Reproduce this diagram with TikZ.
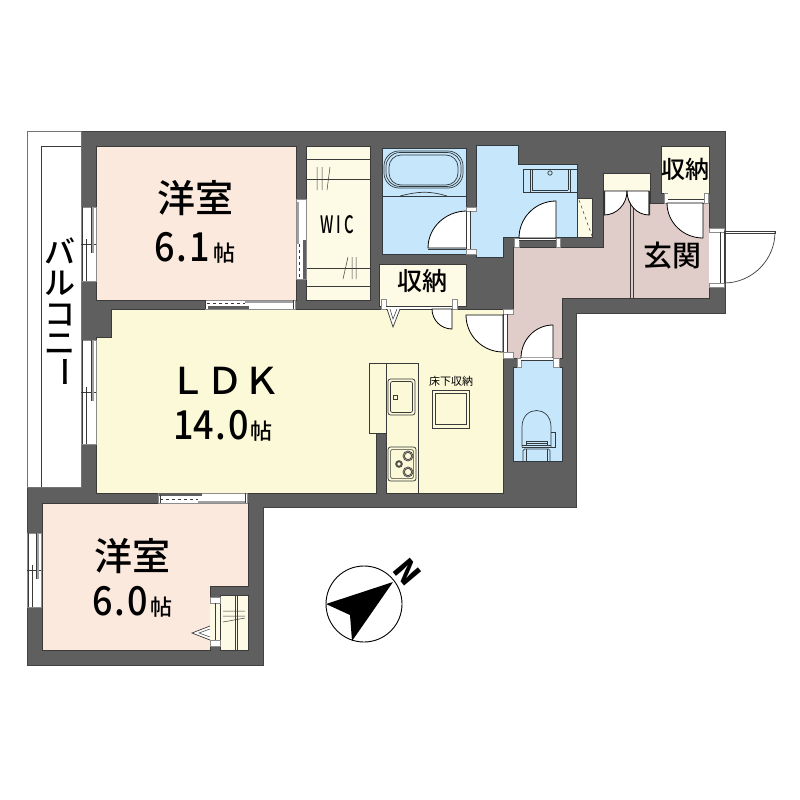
\documentclass[tikz,border=0pt]{standalone}
\usepackage{fontspec}
\usetikzlibrary{calc}
\newfontfamily\jpreg{Noto Sans CJK JP}
\newfontfamily\jpmed{Noto Sans CJK JP Medium}
\newcommand{\jp}{\jpmed}
\newcommand{\jpb}{\jpreg\bfseries}
\newcommand{\jpthin}{\jpreg\mdseries}
\definecolor{wallc}{HTML}{5F5F5F}
\definecolor{linec}{HTML}{3A3A3A}
\definecolor{ldkc}{HTML}{FBF9D8}
\definecolor{creamc}{HTML}{FDFAE6}
\definecolor{roomc}{HTML}{FBE9DD}
\definecolor{hallc}{HTML}{E0CDC9}
\definecolor{bluec}{HTML}{C6E6FB}
\definecolor{bandc}{HTML}{A0A0A0}
\tikzset{
  wall/.style={fill=wallc,draw=wallc!70!black,line width=0.8pt},
  room/.style={draw=linec,line width=0.9pt},
  fine/.style={draw=linec,line width=0.7pt},
  thin line/.style={draw=linec,line width=0.5pt},
  blue line/.style={draw=black!75!bluec,line width=0.7pt},
  gap/.style={fill=white,draw=black!45,line width=0.6pt},
  leaf/.style={fill=white,draw=black,line width=0.8pt},
  label/.style={text=black,inner sep=0pt}
}
% quarter door: centre, end a, end b
\newcommand{\door}[3]{%
  \path[leaf] #1 -- #2 .. controls ($#2+0.5523*#3-0.5523*#1$) and ($#3+0.5523*#2-0.5523*#1$) .. #3 -- cycle;
}
% vertical sliding window
\newcommand{\winV}[4]{% x0 x1 y0 y1
  \pgfmathsetmacro{\ym}{(#3+#4)/2}
  \path[gap] (#1,#3) rectangle (#2,#4);
  \draw[thin line] (#1,\ym) -- (#2,\ym);
  \fill[bandc] ({#2-5},#3) rectangle ({#2-2.5},{\ym+9});
  \draw[thin line] ({#2-5},#3) -- ({#2-5},{\ym+9});
  \draw[thin line] ({#1+5},{\ym-5}) -- ({#1+5},#4);
  \draw[thin line] ({#1+1.5},#3) -- ({#1+1.5},#4);
}
\begin{document}
\begin{tikzpicture}[x=1pt,y=-1pt]
\useasboundingbox (0,0) rectangle (800,800);
\fill[white] (0,0) rectangle (800,800);
% outer walls
\path[wall] (81,131) -- (725,131) -- (725,313) -- (576,313) -- (576,507) -- (263,507) -- (263,665) -- (27,665) -- (27,487) -- (81,487) -- cycle;
% balcony
\path[fill=white,draw=black!55,line width=0.8pt] (27,131) rectangle (81,487);
\draw[fine] (41,487) -- (41,146) -- (81,146);
% upper western room
\path[room,fill=roomc] (96,146) rectangle (296,300);
% WIC
\path[room,fill=creamc] (306,146) rectangle (370,300);
\draw[fine] (306,159) -- (370,159) (306,179) -- (370,179) (306,268) -- (370,268) (306,286) -- (370,286);
\draw[thin line] (317,167) -- (317,190) (322,167) -- (322,190) (330,167) -- (327,190);
\draw[thin line] (348,257) -- (343,279) (352,257) -- (352,279) (356,257) -- (356,279);
% LDK
\path[room,fill=ldkc] (111,309) -- (503,309) -- (503,493) -- (386,493) -- (386,433) -- (376,433) -- (376,493) -- (96,493) -- (96,337) -- (111,337) -- cycle;
\path[room,fill=ldkc] (369,363) rectangle (386,433);
\draw[fine] (386,363) -- (418,363) -- (418,493) (386,363) -- (386,493);
% sink
\draw[fine,rounded corners=2.5pt] (388,379) rectangle (415,415);
\draw[fine,rounded corners=2pt] (390.5,381.5) rectangle (412.5,412.5);
\draw[thin line] (393,395) rectangle (397,399);
% stove
\draw[fine,rounded corners=2.5pt] (388,447) rectangle (416,481);
\draw[thin line,rounded corners=1.5pt] (390.5,449.5) rectangle (413.5,478.5);
\draw[fine] (408,456) circle (5) (408,456) circle (3.6) (408,472) circle (5) (408,472) circle (3.6) (399,464) circle (3.4) (399,464) circle (2.2);
% floor hatch
\draw[fine,line width=0.9pt] (432,390) rectangle (469,428) (435,393) rectangle (466,424);
% lower western room
\path[room,fill=roomc] (42,503) -- (248,503) -- (248,586) -- (210,586) -- (210,650) -- (42,650) -- cycle;
\path[room,fill=creamc] (220,595) rectangle (248,650);
\draw[thin line] (235.5,595) -- (235.5,650) (237,595) -- (237,650);
\draw[thin line] (223,611) -- (245,611) (223,616) -- (245,616) (223,622) -- (245,618);
\path[fill=creamc] (210,603) rectangle (220,640);
\path[gap] (210,597) rectangle (220,603) (210,640) rectangle (220,646);
\draw[fine] (215,603) -- (215,640);
\draw[fine,fill=white] (210,626) -- (192,633) -- (210,640);
\draw[thin line] (210,629) -- (199,633) -- (210,637);
% hall
\path[room,fill=hallc] (513,247) -- (603,247) -- (603,191) -- (650,191) -- (650,203) -- (709,203) -- (709,298) -- (562,298) -- (562,358) -- (507,358) -- (507,314) -- (513,314) -- cycle;
\draw[fine] (630,197) -- (630,298) (633,197) -- (633,298);
% bath
\path[blue line,fill=bluec] (382,148) rectangle (466,254);
\draw[blue line] (382,196) -- (466,196);
\draw[blue line,rounded corners=15pt] (384,151) rectangle (463,188);
\draw[blue line,rounded corners=14pt] (386,152.5) rectangle (461,186.5);
\draw[blue line,rounded corners=12pt] (389,155) rectangle (458,185);
\draw[blue line] (400,196) .. controls (420,191) and (430,191) .. (447,196);
% washroom
\path[blue line,fill=bluec] (476,145) -- (518,145) -- (518,164) -- (577,164) -- (577,237) -- (503,237) -- (503,257) -- (476,257) -- (476,254) -- (470,254) -- (470,207) -- (476,207) -- cycle;
\draw[blue line] (523,169) rectangle (577,192) (530,169) rectangle (570,192) (532,170) -- (532,190) (568,170) -- (568,190) (532,190) -- (568,190);
\draw[blue line] (550,173) circle (2.2);
% shelf
\path[room,fill=creamc] (577,198) rectangle (592,237);
\draw[thin line,dashed] (579,200) -- (592,236);
% WC
\path[blue line,fill=bluec] (513,367) rectangle (562,461);
\path[fill=bluec] (521,358) rectangle (553,368);
\draw[blue line] (522,447) -- (522,427) .. controls (522,405) and (551,405) .. (551,427) -- (551,447);
\draw[blue line] (522,445) -- (551,445) (526,445) -- (526,441) -- (547,441) -- (547,445) (526,443) -- (547,443);
\draw[blue line] (551,432) -- (555,432) -- (555,447) -- (551,447);
\draw[blue line,rounded corners=1.5pt] (523,461) -- (523,449) -- (550,449) -- (550,461);
\draw[blue line] (526,449) -- (526,461) (547,449) -- (547,461) (522,447.5) -- (551,447.5);
% mid storage
\path[room,fill=creamc] (379,264) rectangle (466,306);
\path[fill=creamc] (386,299) rectangle (452,306);
\path[gap] (381,299) rectangle (386,309) (452,299) rectangle (457,309);
\path[fill=white] (386,306) rectangle (452,309);
\draw[thin line] (386,306) -- (452,306) (386,309) -- (452,309);
\draw[fine,fill=white] (387,309) -- (393,327) -- (400,309);
\draw[thin line] (390,309) -- (393,319) -- (397,309);
\door{(452,309)}{(432,309)}{(452,329)}
% door LDK-hall
\door{(503,315)}{(466,315)}{(503,352)}
\path[fill=white] (503,315) rectangle (507,352);
\path[gap] (503,309) rectangle (513,314) (503,352) rectangle (513,358);
\draw[thin line] (503,314) -- (503,352) (507,314) -- (507,352);
% bath door
\door{(467,248)}{(467,211)}{(428,248)}
\draw[fine] (428,249.5) -- (467,249.5);
\path[fill=white] (466,211) rectangle (470,249);
\path[gap] (466,207) rectangle (476,211) (466,249) rectangle (476,254);
\draw[thin line] (466,211) -- (466,249) (470,211) -- (470,249);
% washroom door
\door{(556,238)}{(556,201)}{(519,238)}
\path[gap] (514,238) rectangle (519,247) (556,238) rectangle (560,247);
\path[fill=white] (519,238) rectangle (556,240);
\draw[thin line] (519,238) -- (556,238) (519,240) -- (556,240);
% WC door
\door{(553,358)}{(553,325)}{(521,358)}
\path[gap] (517,358) rectangle (521,367) (553,358) rectangle (559,367);
\path[fill=white] (521,358) rectangle (553,360);
\draw[thin line] (521,360) -- (553,360);
% shoe storage
\path[room,fill=creamc] (603,173) rectangle (650,191);
\door{(604,191)}{(604,215)}{(627,191)}
\door{(649,191)}{(649,215)}{(627,191)}
\fill[black!80] (603,191) rectangle (605,215) (648.5,191) rectangle (650,215);
% entrance storage
\path[room,fill=creamc] (661,146) rectangle (709,193);
\path[gap] (664,193) rectangle (668,203) (704,193) rectangle (708,203);
\path[fill=creamc] (668,193) rectangle (704,199);
\path[fill=white] (668,199) rectangle (704,203);
\draw[thin line] (668,199) -- (704,199) (668,203) -- (704,203);
\door{(703,203)}{(667,203)}{(703,238)}
% entrance
\path[fill=white] (709,232) rectangle (724,283);
\path[gap] (709,228) rectangle (724,232) (709,283) rectangle (724,287);
\draw[thin line] (720,232) -- (720,283) (724,232) -- (724,283);
\draw[fine] (775,232) .. controls (775,260) and (752,283) .. (724,283);
\draw[thin line] (724,231) -- (775,231) -- (775,233) -- (724,233);
% sliding doors
\path[gap] (81,207) rectangle (96,281);
\winV{81}{96}{207}{281}
\winV{81}{96}{340}{444}
\winV{27}{41}{533}{607}
% upper room - LDK slider
\path[gap] (205,300) rectangle (295,309);
\fill[wallc] (208,306) rectangle (249,309);
\draw[thin line,dashed] (207,303) -- (245,303);
\fill[bandc] (245,300.5) rectangle (293,302.5);
\draw[thin line] (205,300) -- (205,309) (293,300) -- (293,309);
% LDK - lower room slider
\path[gap] (158,493) rectangle (247,503);
\fill[wallc] (158.5,493) rectangle (202,495.5);
\draw[thin line,dashed] (160,499) -- (198,499);
\fill[bandc] (198,500.5) rectangle (245,502.5);
\draw[thin line] (160,495) -- (160,503) (245,493) -- (245,503);
% WIC slider
\path[gap] (296,199) rectangle (306,279);
\fill[bandc] (296.5,202) rectangle (298.5,244);
\fill[wallc] (303,240) rectangle (306,279);
\draw[thin line,dashed] (299,244) -- (299,279);
% labels
\node[label,font=\jp\fontsize{38}{38}\selectfont] (room1) at (195,198) {洋室};
\node[label,font=\jp\fontsize{40}{40}\selectfont,anchor=base,xscale=0.9] (area1) at (182,261) {6\kern2pt.\kern2pt1};
\node[label,font=\jp\fontsize{22}{22}\selectfont,anchor=base] (unit1) at (224,261) {帖};
\node[label,font=\jp\fontsize{38}{38}\selectfont] (room2) at (132,556) {洋室};
\node[label,font=\jp\fontsize{40}{40}\selectfont,anchor=base,xscale=0.9] (area2) at (120,615) {6\kern2pt.\kern2pt0};
\node[label,font=\jp\fontsize{22}{22}\selectfont,anchor=base] (unit2) at (161,615) {帖};
\node[label,font=\jp\fontsize{37}{37}\selectfont] (ldk) at (225,381) {ＬＤＫ};
\node[label,font=\jp\fontsize{40}{40}\selectfont,anchor=base,xscale=0.9] (area3) at (211,439) {14\kern2pt.\kern2pt0};
\node[label,font=\jp\fontsize{22}{22}\selectfont,anchor=base] (unit3) at (261,439) {帖};
\node[label,font=\jp\fontsize{25}{25}\selectfont] (sto1) at (422,281) {収納};
\node[label,font=\jp\fontsize{24}{24}\selectfont] (sto2) at (685,169) {収納};
\node[label,font=\jp\fontsize{29}{29}\selectfont] (entry) at (672,256) {玄関};
\node[label,font=\jpthin\fontsize{11}{11}\selectfont] (hatch) at (451,381) {床下収納};
\node[label,font=\jp\fontsize{24}{24}\selectfont,xscale=0.62] (wic) at (337,225) {W\kern5pt I\kern5pt C};
\node[label,font=\jp\fontsize{31}{31}\selectfont] (b1) at (60,251) {バ};
\node[label,font=\jp\fontsize{31}{31}\selectfont] (b2) at (60,283) {ル};
\node[label,font=\jp\fontsize{31}{31}\selectfont] (b3) at (60,315) {コ};
\node[label,font=\jp\fontsize{31}{31}\selectfont] (b4) at (60,344) {ニ};
\node[label,font=\jp\fontsize{31}{31}\selectfont,rotate=-90] (b5) at (60,372) {ー};
% compass
\draw[black,line width=0.9pt] (364,604) circle (38);
\fill[black] (393,582) -- (326,604) -- (350,615) -- (352,641) -- cycle;
\node[label,font=\jpb\fontsize{30}{30}\selectfont,rotate=-50] (north) at (407,572) {N};
\end{tikzpicture}
\end{document}
